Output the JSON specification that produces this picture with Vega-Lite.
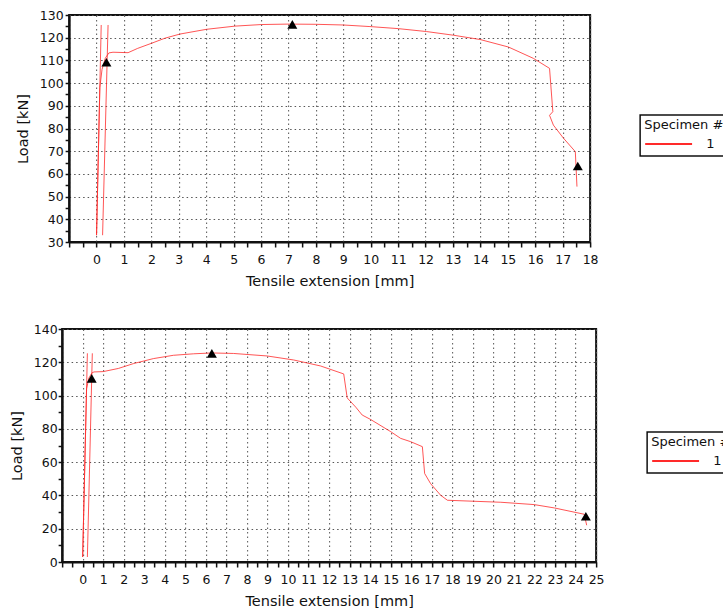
{
  "$schema": "https://vega.github.io/schema/vega-lite/v6.json",
  "background": "white",
  "padding": {"left": 8, "top": 8, "right": 0, "bottom": 0},
  "center": true,
  "spacing": 33,
  "resolve": {"scale": {"color": "independent"}, "legend": {"color": "independent"}},
  "config": {
    "font": "DejaVu Sans",
    "view": {"stroke": "#111", "strokeWidth": 2},
    "axis": {
      "domainColor": "#111", "domainWidth": 2,
      "tickColor": "#111", "tickWidth": 1.5, "tickSize": 5,
      "labelFontSize": 12.5, "labelColor": "#111", "labelFlush": false, "labelOverlap": false,
      "titleFontSize": 14.5, "titleFontWeight": "normal", "titleColor": "#111",
      "gridColor": "#555", "gridDash": [1.5, 3], "gridWidth": 1
    },
    "axisX": {"labelPadding": 6, "titlePadding": 9},
    "axisY": {"labelPadding": 2, "titlePadding": 9, "tickSize": 4},
    "legend": {
      "strokeColor": "#111", "strokeWidth": 1.5, "fillColor": "white", "padding": 4, "cornerRadius": 0,
      "titleFontSize": 13, "titleFontWeight": "normal", "titleColor": "#111", "titlePadding": 4,
      "labelFontSize": 13, "labelColor": "#111", "labelOffset": 13,
      "symbolType": "stroke", "symbolSize": 2200, "symbolStrokeWidth": 2, "clipHeight": 16
    }
  },
  "vconcat": [
    {
      "width": 521,
      "height": 227,
      "layer": [
        {
          "data": {"values": [
            {"seg": "main", "i": 1, "spec": "1", "ext": 0, "load": 33},
            {"seg": "main", "i": 2, "spec": "1", "ext": 0.12, "load": 98},
            {"seg": "main", "i": 3, "spec": "1", "ext": 0.2, "load": 106},
            {"seg": "main", "i": 4, "spec": "1", "ext": 0.32, "load": 111},
            {"seg": "main", "i": 5, "spec": "1", "ext": 0.45, "load": 113.3},
            {"seg": "main", "i": 6, "spec": "1", "ext": 0.6, "load": 113.6},
            {"seg": "main", "i": 7, "spec": "1", "ext": 1.15, "load": 113.4},
            {"seg": "main", "i": 8, "spec": "1", "ext": 1.5, "load": 115.3},
            {"seg": "main", "i": 9, "spec": "1", "ext": 1.95, "load": 117.3},
            {"seg": "main", "i": 10, "spec": "1", "ext": 2.5, "load": 119.8},
            {"seg": "main", "i": 11, "spec": "1", "ext": 3.04, "load": 121.6},
            {"seg": "main", "i": 12, "spec": "1", "ext": 4.01, "load": 123.7},
            {"seg": "main", "i": 13, "spec": "1", "ext": 5.05, "load": 125.1},
            {"seg": "main", "i": 14, "spec": "1", "ext": 6.02, "load": 125.8},
            {"seg": "main", "i": 15, "spec": "1", "ext": 7.0, "load": 126.0},
            {"seg": "main", "i": 16, "spec": "1", "ext": 8.0, "load": 125.9},
            {"seg": "main", "i": 17, "spec": "1", "ext": 9.0, "load": 125.6},
            {"seg": "main", "i": 18, "spec": "1", "ext": 9.97, "load": 124.9},
            {"seg": "main", "i": 19, "spec": "1", "ext": 11.0, "load": 124.0},
            {"seg": "main", "i": 20, "spec": "1", "ext": 12.04, "load": 122.7},
            {"seg": "main", "i": 21, "spec": "1", "ext": 13.01, "load": 121.1},
            {"seg": "main", "i": 22, "spec": "1", "ext": 13.99, "load": 119.2},
            {"seg": "main", "i": 23, "spec": "1", "ext": 15.02, "load": 115.9},
            {"seg": "main", "i": 24, "spec": "1", "ext": 15.93, "load": 110.9},
            {"seg": "main", "i": 25, "spec": "1", "ext": 16.52, "load": 106.5},
            {"seg": "main", "i": 26, "spec": "1", "ext": 16.64, "load": 87.4},
            {"seg": "main", "i": 27, "spec": "1", "ext": 16.52, "load": 85.8},
            {"seg": "main", "i": 28, "spec": "1", "ext": 16.66, "load": 81.5},
            {"seg": "main", "i": 29, "spec": "1", "ext": 17.03, "load": 75.7},
            {"seg": "main", "i": 30, "spec": "1", "ext": 17.46, "load": 69.8},
            {"seg": "main", "i": 31, "spec": "1", "ext": 17.52, "load": 54.4},
            {"seg": "a", "i": 1, "spec": "1", "ext": 0, "load": 33},
            {"seg": "a", "i": 2, "spec": "1", "ext": 0.17, "load": 125.6},
            {"seg": "b", "i": 1, "spec": "1", "ext": 0.22, "load": 33},
            {"seg": "b", "i": 2, "spec": "1", "ext": 0.42, "load": 125.6}
          ]},
          "mark": {"type": "line", "strokeWidth": 1, "strokeOpacity": 0.8, "clip": true},
          "encoding": {
            "x": {
              "field": "ext", "type": "quantitative",
              "scale": {"domain": [-1, 18], "nice": false, "zero": false},
              "axis": {
                "title": "Tensile extension [mm]",
                "tickCount": 1000,
                "labelOverlap": false,
                "values": [-1, -0.5, 0, 0.5, 1, 1.5, 2, 2.5, 3, 3.5, 4, 4.5, 5, 5.5, 6, 6.5, 7, 7.5, 8, 8.5, 9, 9.5, 10, 10.5, 11, 11.5, 12, 12.5, 13, 13.5, 14, 14.5, 15, 15.5, 16, 16.5, 17, 17.5, 18],
                "labelExpr": "datum.value >= 0 && datum.value == floor(datum.value) ? '' + datum.value : ''",
                "gridOpacity": {"condition": {"test": "datum.value != floor(datum.value)", "value": 0}, "value": 1}
              }
            },
            "y": {
              "field": "load", "type": "quantitative",
              "scale": {"domain": [30, 130], "nice": false, "zero": false},
              "axis": {
                "title": "Load [kN]",
                "tickCount": 1000,
                "labelOverlap": false,
                "values": [30, 35, 40, 45, 50, 55, 60, 65, 70, 75, 80, 85, 90, 95, 100, 105, 110, 115, 120, 125, 130],
                "labelExpr": "datum.value % 10 == 0 ? '' + datum.value : ''",
                "gridOpacity": {"condition": {"test": "datum.value % 10 != 0", "value": 0}, "value": 1}
              }
            },
            "color": {
              "field": "spec", "type": "nominal",
              "scale": {"range": ["#ff2a2a"]},
              "legend": {"title": "Specimen #", "orient": "none", "legendX": 571, "legendY": 100, "symbolOpacity": 1}
            },
            "detail": {"field": "seg"},
            "order": {"field": "i", "type": "quantitative"}
          }
        },
        {
          "data": {"values": [
            {"ext": 0.36, "load": 109.2},
            {"ext": 7.14, "load": 125.9},
            {"ext": 17.55, "load": 63.5}
          ]},
          "mark": {"type": "point", "shape": "triangle-up", "filled": true, "color": "black", "opacity": 1, "size": 100},
          "encoding": {
            "x": {"field": "ext", "type": "quantitative"},
            "y": {"field": "load", "type": "quantitative"}
          }
        }
      ]
    },
    {
      "width": 534,
      "height": 233,
      "layer": [
        {
          "data": {"values": [
            {"seg": "main", "i": 1, "spec": "1", "ext": 0, "load": 3},
            {"seg": "main", "i": 2, "spec": "1", "ext": 0.19, "load": 104},
            {"seg": "main", "i": 3, "spec": "1", "ext": 0.3, "load": 110.5},
            {"seg": "main", "i": 4, "spec": "1", "ext": 0.45, "load": 113.6},
            {"seg": "main", "i": 5, "spec": "1", "ext": 0.55, "load": 114.2},
            {"seg": "main", "i": 6, "spec": "1", "ext": 1.0, "load": 114.4},
            {"seg": "main", "i": 7, "spec": "1", "ext": 1.74, "load": 116.3},
            {"seg": "main", "i": 8, "spec": "1", "ext": 2.47, "load": 119.2},
            {"seg": "main", "i": 9, "spec": "1", "ext": 3.44, "load": 122.2},
            {"seg": "main", "i": 10, "spec": "1", "ext": 4.42, "load": 124.2},
            {"seg": "main", "i": 11, "spec": "1", "ext": 5.4, "load": 125.1},
            {"seg": "main", "i": 12, "spec": "1", "ext": 6.29, "load": 125.6},
            {"seg": "main", "i": 13, "spec": "1", "ext": 7.35, "load": 125.3},
            {"seg": "main", "i": 14, "spec": "1", "ext": 8.98, "load": 123.8},
            {"seg": "main", "i": 15, "spec": "1", "ext": 10.27, "load": 121.4},
            {"seg": "main", "i": 16, "spec": "1", "ext": 11.58, "load": 117.8},
            {"seg": "main", "i": 17, "spec": "1", "ext": 12.71, "load": 113.0},
            {"seg": "main", "i": 18, "spec": "1", "ext": 12.88, "load": 98.6},
            {"seg": "main", "i": 19, "spec": "1", "ext": 13.3, "load": 93.0},
            {"seg": "main", "i": 20, "spec": "1", "ext": 13.61, "load": 88.3},
            {"seg": "main", "i": 21, "spec": "1", "ext": 14.01, "load": 85.7},
            {"seg": "main", "i": 22, "spec": "1", "ext": 15.0, "load": 78.3},
            {"seg": "main", "i": 23, "spec": "1", "ext": 15.48, "load": 74.3},
            {"seg": "main", "i": 24, "spec": "1", "ext": 15.97, "load": 72.3},
            {"seg": "main", "i": 25, "spec": "1", "ext": 16.54, "load": 69.3},
            {"seg": "main", "i": 26, "spec": "1", "ext": 16.65, "load": 53.2},
            {"seg": "main", "i": 27, "spec": "1", "ext": 16.94, "load": 47.1},
            {"seg": "main", "i": 28, "spec": "1", "ext": 17.43, "load": 40.1},
            {"seg": "main", "i": 29, "spec": "1", "ext": 17.76, "load": 37.1},
            {"seg": "main", "i": 30, "spec": "1", "ext": 19.05, "load": 36.5},
            {"seg": "main", "i": 31, "spec": "1", "ext": 20.36, "load": 35.9},
            {"seg": "main", "i": 32, "spec": "1", "ext": 21.98, "load": 34.5},
            {"seg": "main", "i": 33, "spec": "1", "ext": 22.96, "load": 32.5},
            {"seg": "main", "i": 34, "spec": "1", "ext": 24.42, "load": 28.7},
            {"seg": "main", "i": 35, "spec": "1", "ext": 24.54, "load": 22.1},
            {"seg": "a", "i": 1, "spec": "1", "ext": 0, "load": 3},
            {"seg": "a", "i": 2, "spec": "1", "ext": 0.23, "load": 125.4},
            {"seg": "b", "i": 1, "spec": "1", "ext": 0.23, "load": 3},
            {"seg": "b", "i": 2, "spec": "1", "ext": 0.47, "load": 125.4}
          ]},
          "mark": {"type": "line", "strokeWidth": 1, "strokeOpacity": 0.8, "clip": true},
          "encoding": {
            "x": {
              "field": "ext", "type": "quantitative",
              "scale": {"domain": [-1, 25], "nice": false, "zero": false},
              "axis": {
                "title": "Tensile extension [mm]",
                "tickCount": 1000,
                "labelOverlap": false,
                "values": [-1, -0.5, 0, 0.5, 1, 1.5, 2, 2.5, 3, 3.5, 4, 4.5, 5, 5.5, 6, 6.5, 7, 7.5, 8, 8.5, 9, 9.5, 10, 10.5, 11, 11.5, 12, 12.5, 13, 13.5, 14, 14.5, 15, 15.5, 16, 16.5, 17, 17.5, 18, 18.5, 19, 19.5, 20, 20.5, 21, 21.5, 22, 22.5, 23, 23.5, 24, 24.5, 25],
                "labelExpr": "datum.value >= 0 && datum.value == floor(datum.value) ? '' + datum.value : ''",
                "gridOpacity": {"condition": {"test": "datum.value != floor(datum.value)", "value": 0}, "value": 1}
              }
            },
            "y": {
              "field": "load", "type": "quantitative",
              "scale": {"domain": [0, 140], "nice": false, "zero": false},
              "axis": {
                "title": "Load [kN]",
                "tickCount": 1000,
                "labelOverlap": false,
                "labelPadding": 1,
                "values": [0, 10, 20, 30, 40, 50, 60, 70, 80, 90, 100, 110, 120, 130, 140],
                "labelExpr": "datum.value % 20 == 0 ? '' + datum.value : ''",
                "gridOpacity": {"condition": {"test": "datum.value % 20 != 0", "value": 0}, "value": 1}
              }
            },
            "color": {
              "field": "spec", "type": "nominal",
              "scale": {"range": ["#ff2a2a"]},
              "legend": {"title": "Specimen #", "orient": "none", "legendX": 585, "legendY": 103, "symbolOpacity": 1}
            },
            "detail": {"field": "seg"},
            "order": {"field": "i", "type": "quantitative"}
          }
        },
        {
          "data": {"values": [
            {"ext": 0.44, "load": 110.3},
            {"ext": 6.29, "load": 125.4},
            {"ext": 24.5, "load": 27.5}
          ]},
          "mark": {"type": "point", "shape": "triangle-up", "filled": true, "color": "black", "opacity": 1, "size": 100},
          "encoding": {
            "x": {"field": "ext", "type": "quantitative"},
            "y": {"field": "load", "type": "quantitative"}
          }
        }
      ]
    }
  ]
}
